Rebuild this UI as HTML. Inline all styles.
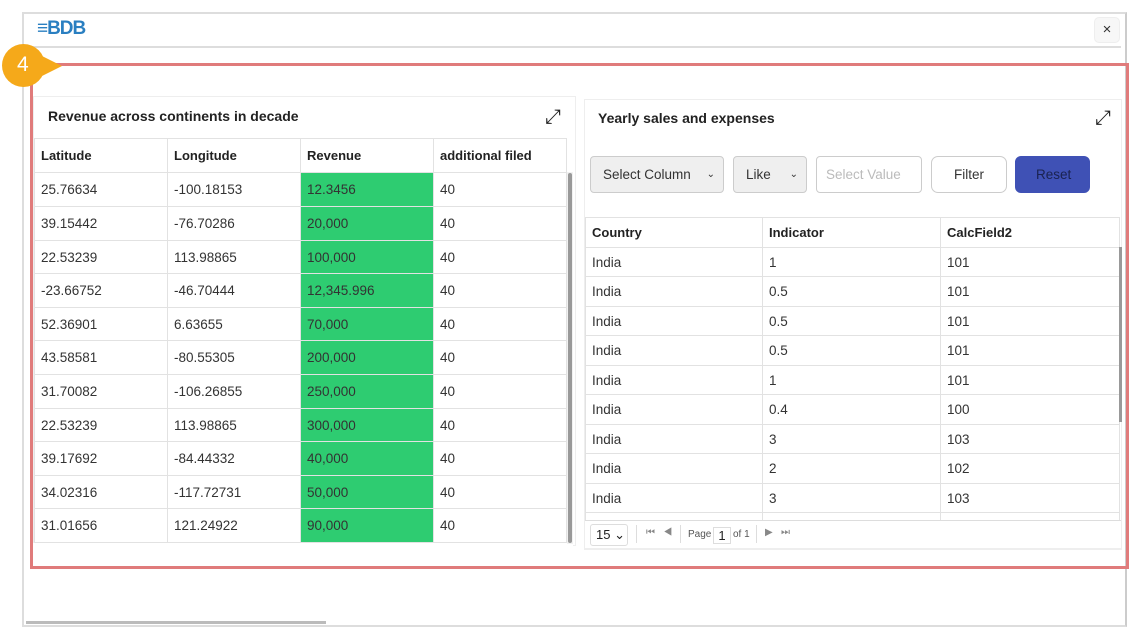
<!DOCTYPE html>
<html><head><meta charset="utf-8"><style>
*{box-sizing:border-box;margin:0;padding:0}
body{width:1129px;height:634px;background:#fff;font-family:"Liberation Sans",sans-serif;position:relative;overflow:hidden;color:#222}
.abs{position:absolute}
table{border-collapse:collapse;table-layout:fixed;position:absolute;font-size:13.5px}
td,th{border:1px solid #e2e2e2;padding:0 0 0 6px;text-align:left;white-space:nowrap;overflow:hidden}
th{font-weight:bold;color:#222;font-size:13px}
td{color:#333}
.g{background:#2ecc71}
.sel{position:absolute;background:#efefef;border:1px solid #ccc;border-radius:4px;font-size:13.5px;color:#333;padding-left:12px;line-height:35px}
</style></head><body>
<div class="abs" style="left:22px;top:12px;width:1105px;height:615px;border:2px solid #ddd;border-right:2px solid #ccc"></div>
<div class="abs" style="left:26px;top:46px;width:1095px;height:2px;background:#ddd"></div>
<div class="abs" style="left:37px;top:18px;color:#2a7fc1;font-weight:bold;font-size:19px;letter-spacing:-1px;font-family:'Liberation Sans'">&#8801;BDB</div>
<div class="abs" style="left:1094px;top:17px;width:26px;height:26px;border:1px solid #eee;border-radius:5px;background:#f7f7f7;text-align:center;line-height:24px;font-size:15px;color:#333">×</div>
<div class="abs" style="left:30px;top:63px;width:1099px;height:506px;border:3px solid #e07b7b"></div>
<div class="abs" style="left:2px;top:44px;width:43px;height:43px;background:#f5a91a;border-radius:50%"></div>
<div class="abs" style="left:28px;top:49px;width:0;height:0;border-top:17px solid transparent;border-bottom:17px solid transparent;border-left:34px solid #f5a91a"></div>
<div class="abs" style="left:17px;top:53px;color:#fff;font-size:21px">4</div>

<!-- left panel -->
<div class="abs" style="left:33px;top:96px;width:543px;height:450px;border:1px solid #eee"></div>
<div class="abs" style="left:48px;top:108px;font-size:14px;font-weight:bold;color:#222">Revenue across continents in decade</div>
<div class="abs" style="left:545px;top:106px;font-size:20px;color:#222">⤢</div>
<table style="left:34px;top:138px;width:532px">
<col style="width:133px"><col style="width:133px"><col style="width:133px"><col style="width:133px">
<tr style="height:34px"><th>Latitude</th><th>Longitude</th><th>Revenue</th><th>additional filed</th></tr>
<tr style="height:34px"><td>25.76634</td><td>-100.18153</td><td class="g">12.3456</td><td>40</td></tr>
<tr style="height:34px"><td>39.15442</td><td>-76.70286</td><td class="g">20,000</td><td>40</td></tr>
<tr style="height:33px"><td>22.53239</td><td>113.98865</td><td class="g">100,000</td><td>40</td></tr>
<tr style="height:34px"><td>-23.66752</td><td>-46.70444</td><td class="g">12,345.996</td><td>40</td></tr>
<tr style="height:33px"><td>52.36901</td><td>6.63655</td><td class="g">70,000</td><td>40</td></tr>
<tr style="height:34px"><td>43.58581</td><td>-80.55305</td><td class="g">200,000</td><td>40</td></tr>
<tr style="height:34px"><td>31.70082</td><td>-106.26855</td><td class="g">250,000</td><td>40</td></tr>
<tr style="height:33px"><td>22.53239</td><td>113.98865</td><td class="g">300,000</td><td>40</td></tr>
<tr style="height:34px"><td>39.17692</td><td>-84.44332</td><td class="g">40,000</td><td>40</td></tr>
<tr style="height:33px"><td>34.02316</td><td>-117.72731</td><td class="g">50,000</td><td>40</td></tr>
<tr style="height:34px"><td>31.01656</td><td>121.24922</td><td class="g">90,000</td><td>40</td></tr>
</table>
<div class="abs" style="left:33px;top:543px;width:540px;height:3px;background:#fff"></div>
<div class="abs" style="left:567px;top:172px;width:6px;height:372px;background:#f1f1f1"></div>
<div class="abs" style="left:568px;top:173px;width:4px;height:370px;background:#999;border-radius:2px"></div>

<!-- right panel -->
<div class="abs" style="left:584px;top:99px;width:538px;height:451px;border:1px solid #eee"></div>
<div class="abs" style="left:598px;top:110px;font-size:14px;font-weight:bold;color:#222">Yearly sales and expenses</div>
<div class="abs" style="left:1095px;top:107px;font-size:20px;color:#222">⤢</div>
<div class="sel" style="left:590px;top:156px;width:134px;height:37px">Select Column<span style="position:absolute;right:8px;font-size:10px">&#8964;</span></div>
<div class="sel" style="left:733px;top:156px;width:74px;height:37px">Like<span style="position:absolute;right:8px;font-size:10px">&#8964;</span></div>
<div class="sel" style="left:816px;top:156px;width:106px;height:37px;background:#fff;color:#bbb;padding-left:9px">Select Value</div>
<div class="sel" style="left:931px;top:156px;width:76px;height:37px;background:#fff;border-radius:7px;padding-left:22px">Filter</div>
<div class="sel" style="left:1015px;top:156px;width:75px;height:37px;background:#3f51b5;border-color:#3f51b5;border-radius:6px;color:#1a2250;padding-left:20px">Reset</div>
<table style="left:585px;top:217px;width:534px">
<col style="width:177px"><col style="width:178px"><col style="width:179px">
<tr style="height:30px"><th>Country</th><th>Indicator</th><th>CalcField2</th></tr>
<tr style="height:29px"><td>India</td><td>1</td><td>101</td></tr>
<tr style="height:30px"><td>India</td><td>0.5</td><td>101</td></tr>
<tr style="height:29px"><td>India</td><td>0.5</td><td>101</td></tr>
<tr style="height:30px"><td>India</td><td>0.5</td><td>101</td></tr>
<tr style="height:29px"><td>India</td><td>1</td><td>101</td></tr>
<tr style="height:30px"><td>India</td><td>0.4</td><td>100</td></tr>
<tr style="height:29px"><td>India</td><td>3</td><td>103</td></tr>
<tr style="height:30px"><td>India</td><td>2</td><td>102</td></tr>
<tr style="height:29px"><td>India</td><td>3</td><td>103</td></tr>
<tr style="height:30px"><td>India</td><td>1</td><td>104</td></tr>
</table>
<div class="abs" style="left:1119px;top:247px;width:3px;height:175px;background:#999"></div>
<div class="abs" style="left:585px;top:520px;width:536px;height:29px;background:#fff;border-top:1px solid #ddd;border-bottom:1px solid #eee"></div>
<div class="abs" style="left:590px;top:524px;width:38px;height:22px;border:1px solid #ddd;border-radius:3px;font-size:13px;line-height:20px;padding-left:5px">15 ⌄</div>
<div class="abs" style="left:636px;top:525px;width:1px;height:18px;background:#ddd"></div>
<div class="abs" style="left:646px;top:527px;font-size:10px;color:#888">⏮&nbsp;&nbsp;&nbsp;◀</div>
<div class="abs" style="left:680px;top:525px;width:1px;height:18px;background:#ddd"></div>
<div class="abs" style="left:688px;top:529px;font-size:10px;color:#555">Page</div>
<div class="abs" style="left:713px;top:527px;width:18px;height:17px;border:1px solid #ddd;font-size:13px;text-align:center;line-height:15px">1</div>
<div class="abs" style="left:733px;top:529px;font-size:10px;color:#555">of 1</div>
<div class="abs" style="left:756px;top:525px;width:1px;height:18px;background:#ddd"></div>
<div class="abs" style="left:765px;top:527px;font-size:10px;color:#888">▶&nbsp;&nbsp;&nbsp;⏭</div>
<div class="abs" style="left:26px;top:621px;width:300px;height:3px;background:#bbb"></div>
</body></html>
